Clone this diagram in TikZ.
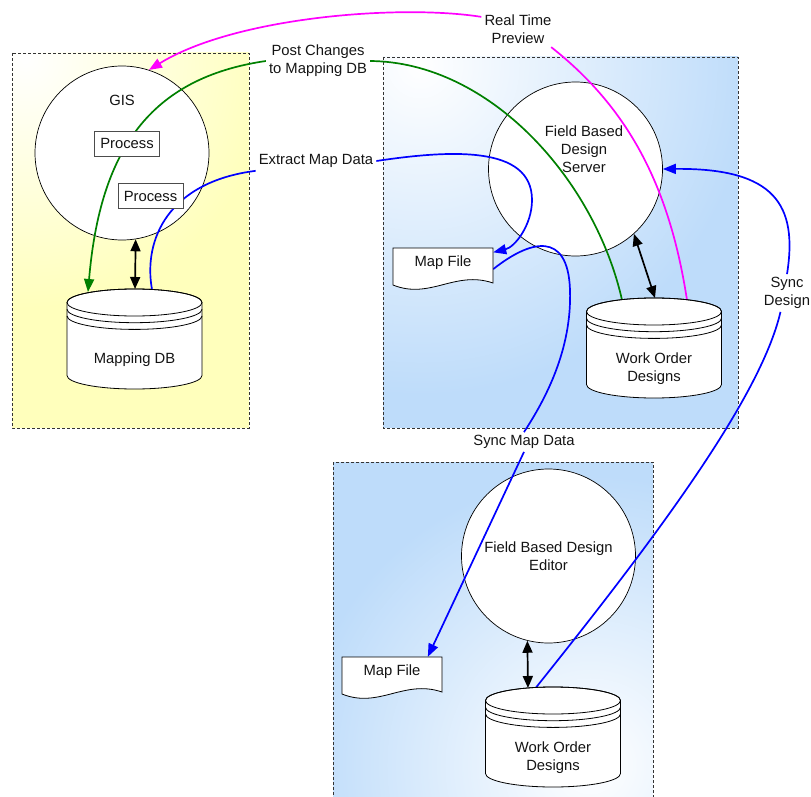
\documentclass[tikz,border=0pt]{standalone}
\usepackage{fontspec}
\setmainfont{Liberation Sans}
\usetikzlibrary{arrows.meta}
\pgfdeclarelayer{bg}
\pgfdeclarelayer{circ}
\pgfdeclarelayer{edges}
\pgfsetlayers{bg,circ,edges,main}
\definecolor{mag}{RGB}{255,0,255}
\definecolor{grn}{RGB}{0,128,0}
\definecolor{blu}{RGB}{0,0,255}
\definecolor{boxblue}{RGB}{190,220,250}
\definecolor{boxyel}{RGB}{255,255,188}
\definecolor{txt}{RGB}{20,20,20}
\tikzset{
  frame/.style={draw=black!80, line width=0.7pt, dash pattern=on 3pt off 2pt},
  bubble/.style={circle, draw=black, line width=0.7pt, fill=white, minimum size=174pt, inner sep=0pt, align=center, text=txt},
  procbox/.style={rectangle, draw=black!70, line width=0.8pt, fill=white, minimum width=65pt, minimum height=25pt, inner sep=0pt, text=txt},
  lbl/.style={align=center, inner sep=3pt, text=txt},
  cylbody/.style={fill=white, draw=black, line width=0.8pt},
  cylline/.style={draw=black, line width=0.8pt},
  docbody/.style={fill=white, draw=black, line width=0.8pt},
  docnode/.style={rectangle, minimum width=100pt, minimum height=30pt, inner sep=0pt, text=txt},
  tip/.style={-{Triangle[length=13pt,width=10pt]}},
  conn/.style={line width=1.7pt},
  blk/.style={conn, draw=black, {Triangle[length=12pt,width=10pt]}-{Triangle[length=12pt,width=10pt]}},
}
\newcommand\dbcyl[4]{%
  \path[cylbody] ({#2-67.5},{#3+13.5}) -- ({#2-67.5},{#3+86.5})
     arc[start angle=180,end angle=0,x radius=67.5,y radius=13.5]
     -- ({#2+67.5},{#3+13.5})
     arc[start angle=0,end angle=-180,x radius=67.5,y radius=13.5] -- cycle;
  \draw[cylline] ({#2},{#3+13.5}) ellipse[x radius=67.5,y radius=13.5];
  \draw[cylline] ({#2-67.5},{#3+20.2}) arc[start angle=180,end angle=0,x radius=67.5,y radius=13.5];
  \draw[cylline] ({#2-67.5},{#3+26.9}) arc[start angle=180,end angle=0,x radius=67.5,y radius=13.5];
  \node[lbl] (#1) at ({#2},{#3+70.5}) {#4};
}
\newcommand\mapfile[3]{%
  \path[docbody] ({#2},{#3}) -- ({#2+100},{#3}) -- ({#2+100},{#3+35})
     .. controls ({#2+62},{#3+22}) and ({#2+37},{#3+52}) .. ({#2},{#3+37}) -- cycle;
  \node[docnode] (#1) at ({#2+50},{#3+15}) {Map File};
}
\begin{document}
\begin{tikzpicture}[x=1pt,y=-1pt,font=\fontsize{14.8}{18}\selectfont]
\useasboundingbox (0,0) rectangle (811,797);

% ---------- shaded frames ----------
\begin{pgfonlayer}{bg}
  \begin{scope}
    \clip (12,53) rectangle (249,428);
    \fill[boxyel] (12,53) rectangle (249,428);
    \shade[inner color=white, outer color=boxyel] (25,58) circle (250);
  \end{scope}
  \draw[frame] (12,53) rectangle (249,428);
  \begin{scope}
    \clip (383,57) rectangle (738,428);
    \fill[boxblue] (383,57) rectangle (738,428);
    \shade[inner color=white, outer color=boxblue] (420,65) circle (330);
  \end{scope}
  \draw[frame] (383,57) rectangle (738,428);
  \begin{scope}
    \clip (333,462) rectangle (653,810);
    \fill[boxblue] (333,462) rectangle (653,810);
    \shade[inner color=white, outer color=boxblue] (590,765) circle (290);
  \end{scope}
  \draw[frame] (333,462) rectangle (653,810);
\end{pgfonlayer}

% ---------- circles ----------
\begin{pgfonlayer}{circ}
  \node[bubble] (gis) at (122,153) {};
  \node[bubble] (srv) at (575.5,169) {};
  \node[bubble] (edt) at (548.5,556) {Field Based Design\\Editor};
\end{pgfonlayer}
\node[lbl] (gist) at (122,100) {GIS};
\node[lbl] (srvt) at (584,149) {Field Based\\Design\\Server};

% ---------- process boxes ----------
\node[procbox] (p1) at (127,143.5) {Process};
\node[procbox] (p2) at (150.5,196) {Process};

% ---------- data stores ----------
\dbcyl{mdb}{134.5}{289}{Mapping DB}
\dbcyl{wod}{654}{298}{Work Order\\Designs}
\dbcyl{lwod}{553}{687}{Work Order\\Designs}
\coordinate (mdbG) at (88,292);
\coordinate (mdbK) at (135,289);
\coordinate (mdbB) at (152,289.5);
\coordinate (wodG) at (622,300);
\coordinate (wodK) at (655,298);
\coordinate (wodM) at (687,300);
\coordinate (lwodK) at (528,688);
\coordinate (lwodB) at (536,687.5);

\mapfile{mf1}{393}{248}
\mapfile{mf2}{342}{657}

% ---------- labels ----------
\node[lbl] (rtp) at (518,29.5) {Real Time\\Preview};
\node[lbl] (pc) at (318,61) {Post Changes\\to Mapping DB};
\node[lbl] (xmd) at (316,161) {Extract Map Data};
\node[lbl] (smd) at (524,442) {Sync Map Data};
\node[lbl] (sd) at (787,293) {Sync\\Design};

% ---------- connectors ----------
\begin{pgfonlayer}{edges}
  \draw[blk] (gis.-81) -- (mdbK);
  \draw[blk] (srv.-48) -- (wodK);
  \draw[blk] (edt.-104) -- (lwodK);

  \draw[conn, mag] (wodM) .. controls (670,190) and (631,110) .. (rtp.-28);
  \draw[conn, mag, tip] (rtp.161) .. controls (400,4) and (235,17) .. (gis.72);

  \draw[conn, grn] (wodG) .. controls (595,180) and (490,62) .. (pc.east);
  \draw[conn, grn, tip] (pc.west) .. controls (150,78) and (100,150) .. (mdbG);

  \draw[conn, blu] (mdbB) .. controls (143,240) and (168,182) .. (xmd.south west);
  \draw[conn, blu, tip] (xmd.east) .. controls (450,150) and (532,145) .. (532,200)
     .. controls (532,225) and (515,247) .. (mf1.12);

  \draw[conn, blu] (mf1.-7) .. controls (530,240) and (568,230) .. (570,290)
     .. controls (572,350) and (545,400) .. (smd.north);
  \draw[conn, blu, tip] (smd.south) -- (mf2.23);

  \draw[conn, blu] (lwodB) .. controls (650,545) and (760,400) .. (sd.-109);
  \draw[conn, blu, tip] (sd.north) .. controls (798,205) and (775,168) .. (srv.east);
\end{pgfonlayer}
\end{tikzpicture}
\end{document}
